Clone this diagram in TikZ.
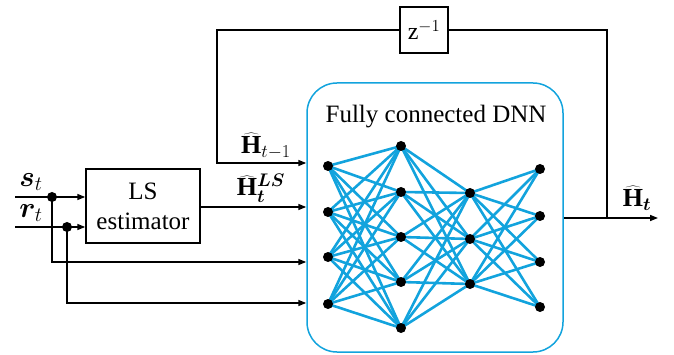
\RequirePackage{fix-cm}
\documentclass[tikz,border=0pt]{standalone}
\usepackage{fontspec}
\setmainfont{Liberation Serif}
\usepackage{bm}
\usetikzlibrary{arrows.meta}
\definecolor{netblue}{RGB}{18,163,221}
\begin{document}
\begin{tikzpicture}[x=1pt,y=-1pt,
  wire/.style={line width=1.5pt,black},
  sig/.style={wire,-{Triangle[length=8pt,width=6pt]}},
  blk/.style={draw,line width=1.5pt,align=center,inner sep=0pt},
  neuron/.style={circle,fill=black,inner sep=0pt,minimum size=10pt},
  jdot/.style={circle,fill=black,inner sep=0pt,minimum size=10pt},
  link/.style={netblue,line width=2.6pt},
  lbl/.style={font=\fontsize{26}{30}\selectfont,inner sep=0pt}]
\useasboundingbox (0,0) rectangle (674,355);

% main blocks
\node[draw=netblue,line width=1.5pt,rounded corners=30pt,inner sep=0pt,
      minimum width=256pt,minimum height=269pt] (dnn) at (435,217.5) {};
\node[font=\fontsize{25}{30}\selectfont] (title) at (436,117) {Fully connected DNN};
\node[blk,minimum width=114pt,minimum height=74pt,
      font=\fontsize{25}{30}\selectfont] (ls) at (143,206) {LS\\estimator};
\node[blk,minimum width=48pt,minimum height=46pt,
      font=\fontsize{24}{28}\selectfont] (zd) at (424,30) {$\mathrm{z}^{-1}$};

% signal coordinates
\coordinate (sin) at (15,197);
\coordinate (rin) at (15,227);
\coordinate (srow) at (0,262);
\coordinate (rrow) at (0,303);
\coordinate (lsrow) at (0,207);
\coordinate (fbL) at (217,163);
\coordinate (fbR) at (607,218);
\coordinate (out) at (658,218);

% inputs and their branches
\draw[sig] (sin) -- (ls.west |- sin);
\draw[sig] (rin) -- (ls.west |- rin);
\node[jdot] (js) at (52,197) {};
\node[jdot] (jr) at (67,227) {};
\draw[sig] (js.center) |- (dnn.west |- srow);
\draw[sig] (jr.center) |- (dnn.west |- rrow);

% LS estimate and delayed feedback
\draw[sig] (ls.east |- lsrow) -- (dnn.west |- lsrow);
\draw[sig] (zd.west) -| (fbL) -- (dnn.west |- fbL);
\draw[sig] (dnn.east |- out) -- (out);
\draw[wire] (fbR) |- (zd.east);

% labels
\node[lbl,font=\fontsize{29}{32}\selectfont] (lblS) at (31,182) {$\bm{s}_t$};
\node[lbl,font=\fontsize{29}{32}\selectfont] (lblR) at (31,213) {$\bm{r}_t$};
\node[lbl] (lblHp) at (266,146) {$\widehat{\mathbf{H}}_{t-1}$};
\node[lbl] (lblHls) at (261,188) {$\widehat{\mathbf{H}}_{\bm{t}}^{\bm{LS}}$};
\node[lbl] (lblHt) at (637,198) {$\widehat{\mathbf{H}}_{\bm{t}}$};

% network layers
\foreach \y [count=\k] in {166,212,257,304} \coordinate (a\k) at (328,\y);
\foreach \y [count=\k] in {146,192,237,282,328} \coordinate (b\k) at (401,\y);
\foreach \y [count=\k] in {193,239,284} \coordinate (c\k) at (470,\y);
\foreach \y [count=\k] in {169,216,262,307} \coordinate (d\k) at (540,\y);

\foreach \i in {1,...,4} \foreach \j in {1,...,5} \draw[link] (a\i) -- (b\j);
\foreach \i in {1,...,5} \foreach \j in {1,...,3} \draw[link] (b\i) -- (c\j);
\foreach \i in {1,...,3} \foreach \j in {1,...,4} \draw[link] (c\i) -- (d\j);

\foreach \k in {1,...,4} \node[neuron] (na\k) at (a\k) {};
\foreach \k in {1,...,5} \node[neuron] (nb\k) at (b\k) {};
\foreach \k in {1,...,3} \node[neuron] (nc\k) at (c\k) {};
\foreach \k in {1,...,4} \node[neuron] (nd\k) at (d\k) {};
\end{tikzpicture}
\end{document}
